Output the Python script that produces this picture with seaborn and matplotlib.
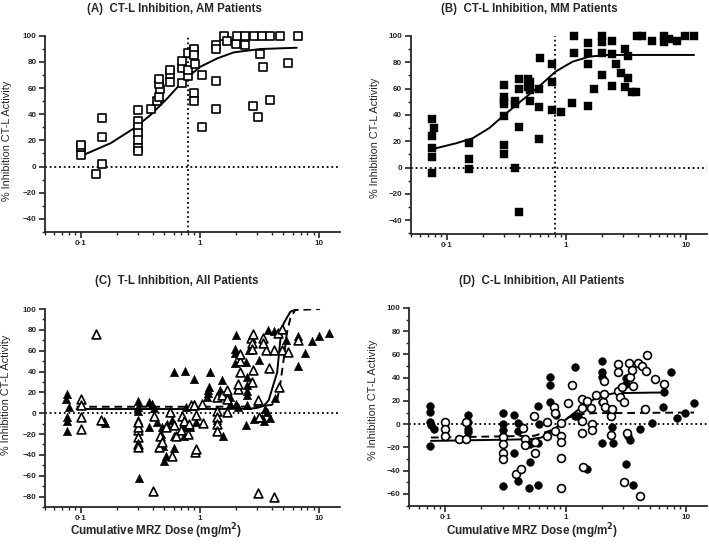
import numpy as np
import pandas as pd
import matplotlib
matplotlib.use("Agg")
import matplotlib.pyplot as plt
import seaborn as sns
from matplotlib.ticker import FixedLocator, FixedFormatter, LogLocator, NullFormatter, MultipleLocator

sns.set_style("ticks")
plt.rcParams['font.family'] = ['Liberation Sans', 'DejaVu Sans']

# ---- (A) CT-L inhibition, AM patients (open squares)
a_dose = [0.1, 0.1, 0.1, 0.133, 0.15, 0.15, 0.15, 0.3, 0.3, 0.3, 0.3, 0.3, 0.3, 0.3, 0.39,
          0.44, 0.45, 0.46, 0.45, 0.45, 0.56, 0.56, 0.56, 0.71, 0.71, 0.71, 0.79, 0.8, 0.79,
          0.9, 0.9, 0.89, 0.91, 0.9, 0.9, 1.05, 1.05, 1.37, 1.37, 1.37, 1.37, 1.6, 1.7,
          2.0, 2.05, 2.4, 2.38, 2.85, 3.3, 3.9, 4.7, 3.2, 3.4, 2.8, 3.1, 3.9, 5.5, 6.7]
a_inhib = [9, 15, 16.5, -5.5, 2, 22.5, 37, 43, 35, 30, 26, 20, 14, 12, 44,
           50, 53, 59, 63, 67, 65, 71, 74, 64, 75, 81, 69, 74, 87,
           88.5, 90, 85, 78, 56.5, 50, 70, 30.5, 93, 90, 65.5, 44, 100, 96,
           94, 100, 100, 93, 100, 100, 100, 100, 86, 76, 46, 38, 51, 79, 100]
a_fit_dose = [0.106, 0.178, 0.28, 0.386, 0.533, 0.735, 1.01, 1.40, 1.93, 3.2, 6.5]
a_fit_inhib = [9, 17.9, 29.3, 39.5, 52.2, 66.2, 76.3, 82.7, 87.3, 89.8, 90.8]

# ---- (B) CT-L inhibition, MM patients (filled squares)
b_dose = [0.075, 0.078, 0.075, 0.075, 0.075, 0.075, 0.155, 0.155, 0.155,
          0.3, 0.3, 0.3, 0.3, 0.3, 0.3, 0.3, 0.37, 0.37, 0.37, 0.4, 0.4, 0.4, 0.4,
          0.48, 0.48, 0.5, 0.5, 0.5, 0.59, 0.59, 0.59, 0.6, 0.755, 0.755, 0.755,
          0.9, 1.12, 1.17, 1.17, 1.52, 1.52, 1.52, 1.52, 1.72, 2.0, 2.0, 2.0, 2.0,
          2.4, 2.4, 2.4, 2.6, 2.87, 3.12, 3.12, 3.3, 3.3, 3.55, 3.8, 3.9, 4.3, 5.2,
          6.5, 6.5, 7.2, 8.5, 9.8, 11.7]
b_inhib = [37, 30, 24, 15, 8, -4, 18.5, 6.3, -1.3,
           63, 54, 51, 48, 39, 17, 10.4, 51, 48, 0, 67, 59.5, 30.6, -33.4,
           67, 61, 65, 59, 51, 59.5, 46, 21.5, 83, 79, 65, 44,
           42.5, 49.4, 100, 87.3, 94.4, 87.3, 78.7, 46.8, 59.5, 100, 95.7, 87.3, 70.4,
           96.5, 86.3, 62, 79, 72, 61, 90, 68, 85, 57.7, 57.7, 100, 100, 96.5,
           100, 95.7, 98, 96.5, 100, 100]
b_fit_dose = [0.077, 0.12, 0.165, 0.227, 0.313, 0.43, 0.59, 0.815, 1.13, 1.55, 2.2, 4.0, 11.7]
b_fit_inhib = [14.2, 18.5, 22.3, 30, 41, 51.4, 61.5, 73, 80.5, 84.3, 85.6, 85.6, 85.6]

# ---- (C) T-L inhibition, all patients
c_dose_f = [0.076, 0.075, 0.076, 0.076, 0.076, 0.08, 0.157, 0.161, 0.3, 0.3, 0.3, 0.3, 0.306,
            0.37, 0.377, 0.393, 0.409, 0.436, 0.47, 0.476, 0.487, 0.5, 0.518, 0.53,
            0.6, 0.6, 0.6, 0.58, 0.75, 0.73, 0.76, 0.74, 0.9, 0.92, 0.9, 0.82,
            1.21, 1.19, 1.18, 1.16, 1.14, 1.4, 1.52, 1.57, 1.48, 1.8, 1.8,
            2.0, 1.96, 1.98, 1.98, 2.0, 2.07, 2.44, 2.5, 2.5, 2.5, 2.5, 2.5, 2.46,
            2.58, 2.87, 3.12, 3.33, 3.43, 3.54, 3.65, 3.86, 3.73, 4.16, 4.3, 5.27,
            6.6, 6.7, 7.6, 8.7, 10, 12.1]
c_inhib_f = [18, 13.8, -3.9, -7.7, -17.4, 5.8, -7.7, -9.3, 11.3, 6.4, 1.9, -6.4, -62.4,
             11, -13.5, 8.4, 5, -8.7, -20, -13.5, -31, -45.7, -41, -10.3,
             39.5, -33, -21.5, -6.4, 40.5, -13.5, 6.4, -21.5, 33, -8.7, 8.4, -13.5,
             39.5, 25, 22, 19.3, 15.4, -6.4, 31.5, -21.5, 22, 9, 16,
             75.5, 61.4, 58.2, 48.5, 9, 6.4, 49, 34.7, 26.7, 21.2, 17, 7.4, -11.3,
             60.4, -5.5, 51, -4.8, -7.7, 4.2, 1, -4.8, 80, 78.8, 14.8, 70,
             74.3, 45, 58, 69, 74, 77]
c_dose_o = [0.135, 0.1, 0.1, 0.1, 0.1, 0.148, 0.3, 0.3, 0.3, 0.3, 0.3, 0.3, 0.4, 0.41,
            0.455, 0.465, 0.476, 0.518, 0.56, 0.58, 0.61, 0.63, 0.71, 0.7, 0.73,
            0.79, 0.81, 0.84, 0.91, 0.92, 0.92, 0.9, 1.05, 1.07, 1.4, 1.4, 1.4, 1.4, 1.4,
            1.53, 1.7, 1.7, 1.68, 2.07, 2.1, 2.15, 2.15, 2.15, 2.67, 2.75, 2.75, 2.8, 2.75, 2.8,
            3.1, 3.15, 3.1, 3.4, 3.6, 3.4, 3.8, 4.16, 4.16, 4.5, 4.6, 4.9, 4.9, 5.5, 6.6]
c_inhib_o = [75.6, 14, 8, -4, -15, -6.4, -16, -22.5, -29.6, -13.5, -32.8, -8.7, -74.6, -2.9,
             -32.8, -21.5, -27.3, -13.5, 1, -40.8, -11.3, -21.5, -2.9, -16, -7.7,
             -20, -10, 7.4, -37.6, -34.4, -1.3, 7.4, 9, -9.6, 15.4, 2.6, -3.2, -10.3, -17.4,
             17, 13.8, 1, 22.5, 23.5, 28.3, 39.5, 50, 57, 71.7, 67.5, 62, 41, 30, 76,
             12.2, -3.9, -76.2, 71.7, 60.4, 67.5, 43.7, 61, -80.4, 77, 25, 80.4, 60.4, 58.8, 70.7]
c_fit_dose_f = [0.092, 1.0, 2.6, 3.0, 3.44, 3.78, 4.17, 4.45, 4.73, 5.04, 5.74, 6.5]
c_fit_inhib_f = [4, 4, 4.3, 5, 7, 12.5, 28.6, 39, 70, 86, 97.4, 99.7]
c_fit_dose_o = [0.092, 1.0, 3.0, 4.0, 4.45, 4.73, 5.04, 5.36, 5.74, 6.3, 10.2]
c_fit_inhib_o = [6.2, 6.2, 6.4, 8, 12.5, 28.6, 51, 76.6, 91, 99, 100]

# ---- (D) C-L inhibition, all patients
d_dose_f = [0.075, 0.075, 0.075, 0.076, 0.08, 0.075, 0.155, 0.155, 0.155, 0.155,
            0.303, 0.303, 0.303, 0.303, 0.303, 0.373, 0.373, 0.404, 0.404, 0.404,
            0.504, 0.495, 0.504, 0.59, 0.6, 0.59, 0.59, 0.75, 0.75, 0.74, 0.84,
            1.2, 1.2, 1.28, 1.52, 2.0, 2.0, 2.0, 2.02, 2.0, 2.42, 2.47,
            3.16, 3.16, 3.16, 3.3, 3.43, 3.66, 4.15, 5.2, 6.6, 6.5, 7.5, 8.5, 9.9, 11.7]
d_inhib_f = [15.8, 10.6, 2, -0.9, -4.3, -18.7, 7.8, 2, -4.3, -6.6,
             9.5, 0, -5.2, -10, -53, 7.8, -24.4, 0.9, -5.7, -49,
             -32.5, -54.6, -17, 15.8, 0, -15.8, -52.6, 41, 33.6, 18.7, 7.8,
             49, 7.2, 7.2, -38.8, 54.6, 44.5, 41, -15.8, 18.7, -2, -15.8,
             -34, 39.4, 34.5, -10, -13.5, -52.6, -4.3, 0.9, 27.9, 15.2, 45, 5.7, 9.5, 17.8]
d_dose_o = [0.1, 0.1, 0.1, 0.129, 0.15, 0.15, 0.303, 0.303, 0.303, 0.303, 0.39, 0.43,
            0.444, 0.458, 0.464, 0.545, 0.555, 0.555, 0.7, 0.695, 0.805, 0.81, 0.81,
            0.91, 0.91, 0.91, 0.91, 0.91, 1.05, 1.14, 1.36, 1.36, 1.37, 1.36, 1.4, 1.52,
            1.62, 1.65, 1.66, 1.78, 2.06, 2.1, 2.1, 2.14, 2.39, 2.42, 2.39,
            2.75, 2.75, 2.75, 2.84, 2.93, 3.08, 3.08, 3.22, 3.37, 3.43, 3.59, 3.66,
            4.03, 4.3, 4.15, 4.58, 4.7, 4.8, 5.55, 6.6]
d_inhib_o = [2, -4.3, -10, -13, 2, -13, -11, -17, -24.4, -30, -42.5, -38.2,
             -2.9, -13, -17.8, 7.2, -15.2, -24.4, 2.3, -10, 14.4, 9.5, -5.7,
             0.9, -10, -15, -28.7, -54.6, 18.1, 33.6, 13.5, 21.6, 2.9, -7.2, -36.5, 20,
             13.5, 0, -4.9, 25, 18.7, 37.4, 25.9, 14.4, 7.2, 13, -9.2,
             51.7, 44.5, 28.7, 23, 31.6, 18.7, -49.4, -7.2, 52.6, 40.2, 46.8, 32.5,
             52.6, 50.3, -61.8, 12.9, 46, 59.8, 38.8, 34.5]
d_fit_dose_f = [0.076, 0.5, 0.63, 0.81, 0.98, 1.19, 1.53, 1.98, 2.56, 6.6]
d_fit_inhib_f = [-14.4, -13, -11.5, -4.3, 2.9, 10, 18.7, 24.4, 26.7, 27.3]
d_fit_dose_o = [0.076, 0.55, 0.81, 1.05, 1.35, 1.74, 11.7]
d_fit_inhib_o = [-11.5, -10, -4.3, 5.7, 8.6, 9.5, 10]

W, H = 709, 548
fig = plt.figure(figsize=(W / 100, H / 100), dpi=100)


def px_axes(left, top, right, bottom):
    return fig.add_axes([left / W, 1 - bottom / H, (right - left) / W, (bottom - top) / H])


def style(ax, ymin):
    ax.set_xscale('log')
    ax.set_xlim(0.05, 15)
    ax.set_ylim(ymin, 100)
    sns.despine(ax=ax)
    for s in ['left', 'bottom']:
        ax.spines[s].set_linewidth(1.3)
    ax.xaxis.set_major_locator(FixedLocator([0.1, 1, 10]))
    ax.xaxis.set_major_formatter(FixedFormatter(['0·1', '1', '10']))
    ax.xaxis.set_minor_locator(LogLocator(base=10, subs=np.arange(2, 10)))
    ax.xaxis.set_minor_formatter(NullFormatter())
    ax.yaxis.set_major_locator(MultipleLocator(20))
    ax.yaxis.set_minor_locator(MultipleLocator(10))
    ax.tick_params(which='major', length=4, width=1.2, labelsize=5.8, pad=2)
    ax.tick_params(which='minor', length=2.2, width=1.0)
    for lab in ax.get_xticklabels() + ax.get_yticklabels():
        lab.set_fontweight('bold')
    ax.axhline(0, color='k', lw=1.3, ls=(0, (1, 1.6)), zorder=1)
    ax.set_xlabel('')
    ax.set_ylabel('')


def fit(ax, x, y, ls='-'):
    sns.lineplot(x=x, y=y, ax=ax, color='k', lw=1.4, sort=False, estimator=None,
                 linestyle=ls, zorder=2)


ylab = '% Inhibition CT-L Activity'
xlab = 'Cumulative MRZ Dose (mg/m$^\\mathbf{2}$)'

open_kw = dict(facecolor='white', edgecolor='black', linewidth=1.2, clip_on=False, zorder=3)
fill_kw = dict(color='black', edgecolor='black', linewidth=0.3, clip_on=False, zorder=3)

# A
axA = px_axes(45, 35.7, 340, 232)
axA.axvline(0.8, color='k', lw=1.3, ls=(0, (1, 1.6)), zorder=1)
sns.scatterplot(x=a_dose, y=a_inhib, ax=axA, marker='s', s=30, **open_kw)
fit(axA, a_fit_dose, a_fit_inhib)
style(axA, -50)

# B
axB = px_axes(410.5, 36, 707, 233.5)
axB.axvline(0.8, color='k', lw=1.3, ls=(0, (1, 1.6)), zorder=1)
sns.scatterplot(x=b_dose, y=b_inhib, ax=axB, marker='s', s=32, **fill_kw)
fit(axB, b_fit_dose, b_fit_inhib)
style(axB, -50)

# C
axC = px_axes(45, 309, 340, 507)
sns.scatterplot(x=c_dose_f, y=c_inhib_f, ax=axC, marker='^', s=38, **fill_kw)
sns.scatterplot(x=c_dose_o, y=c_inhib_o, ax=axC, marker='^', s=40, **open_kw)
fit(axC, c_fit_dose_f, c_fit_inhib_f)
fit(axC, c_fit_dose_o, c_fit_inhib_o, ls=(0, (4, 2.5)))
style(axC, -90)

# D
axD = px_axes(409, 308, 707, 505.5)
sns.scatterplot(x=d_dose_f, y=d_inhib_f, ax=axD, marker='o', s=32, **fill_kw)
sns.scatterplot(x=d_dose_o, y=d_inhib_o, ax=axD, marker='o', s=32, **open_kw)
fit(axD, d_fit_dose_f, d_fit_inhib_f)
fit(axD, d_fit_dose_o, d_fit_inhib_o, ls=(0, (4, 2.5)))
style(axD, -70)

# titles and axis labels
titles = [('(A)  CT-L Inhibition, AM Patients', 174.5, 9),
          ('(B)  CT-L Inhibition, MM Patients', 529, 9),
          ('(C)  T-L Inhibition, All Patients', 177, 281),
          ('(D)  C-L Inhibition, All Patients', 541.7, 281)]
for t, x, y in titles:
    fig.text(x / W, 1 - y / H, t, ha='center', va='center', fontsize=8.3, fontweight='bold')

for x, y in [(7, 141), (375, 138), (6, 395), (373, 400)]:
    fig.text(x / W, 1 - y / H, ylab, ha='center', va='center', rotation=90, fontsize=7.8)

for x, y in [(156.5, 530.7), (532, 530.7)]:
    fig.text(x / W, 1 - y / H, xlab, ha='center', va='center', fontsize=8.4, fontweight='bold')

fig.savefig('out.png', dpi=100)
